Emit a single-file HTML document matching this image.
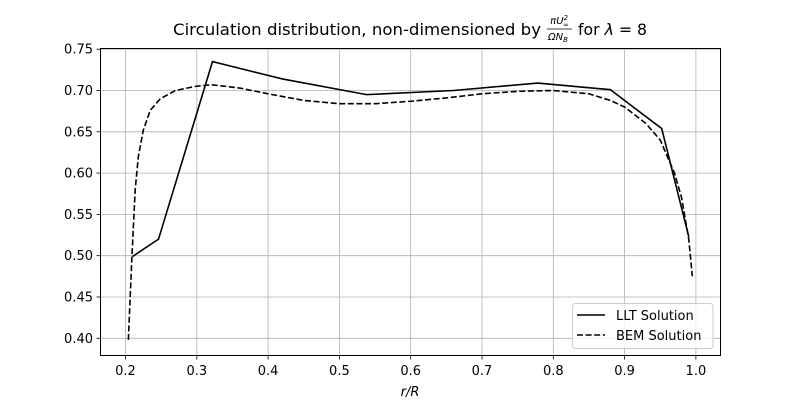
<!DOCTYPE html>
<html><head><meta charset="utf-8"><style>
body{margin:0;background:#fff;}
svg{display:block;font-family:"DejaVu Sans","Liberation Sans",sans-serif;}
</style></head><body>
<svg id="chart" width="800" height="400">
<g>
<text x="173" y="35" font-size="16" textLength="368" lengthAdjust="spacingAndGlyphs" fill="#000">Circulation distribution, non-dimensioned by</text>
<text x="559.5" y="24" text-anchor="middle" font-size="10" font-style="italic">πU<tspan font-size="7" dy="-4">2</tspan><tspan font-size="7" dx="-5" dy="7">∞</tspan></text>
<line x1="547" y1="29" x2="572" y2="29" stroke="#000" stroke-width="0.8"/>
<text x="558" y="40" text-anchor="middle" font-size="10" font-style="italic">ΩN<tspan font-size="7" dy="2">B</tspan></text>
<text x="578" y="35" font-size="16" textLength="69" lengthAdjust="spacingAndGlyphs">for <tspan font-style="italic">λ</tspan> = 8</text>
</g>
<g id="grid"></g>
<g id="series"></g>
<rect x="100.5" y="48.5" width="620" height="307" fill="none" stroke="#000" stroke-width="1"/>
<g id="ticks"></g>
<text x="410" y="396" text-anchor="middle" font-size="13" font-style="italic">r/R</text>
<g>
<rect x="572.5" y="303.5" width="140.5" height="45" rx="3" fill="#fff" fill-opacity="0.8" stroke="#ccc"/>
<line x1="577" y1="315" x2="605" y2="315" stroke="#000" stroke-width="1.6"/>
<text x="616" y="320" font-size="13">LLT Solution</text>
<line x1="577" y1="335" x2="605" y2="335" stroke="#000" stroke-width="1.6" stroke-dasharray="6,2.6"/>
<text x="616" y="340" font-size="13">BEM Solution</text>
</g>
</svg>
<script>
const xTicks=[0.2,0.3,0.4,0.5,0.6,0.7,0.8,0.9,1.0];
const xTickLabels=["0.2","0.3","0.4","0.5","0.6","0.7","0.8","0.9","1.0"];
const yTicks=[0.40,0.45,0.50,0.55,0.60,0.65,0.70,0.75];
const yTickLabels=["0.40","0.45","0.50","0.55","0.60","0.65","0.70","0.75"];
const lltX=[0.2098,0.2463,0.322,0.42,0.538,0.66,0.778,0.880,0.952,0.990];
const lltY=[0.499,0.520,0.735,0.714,0.695,0.700,0.709,0.701,0.654,0.523];
const bemX=[0.204,0.209,0.2136,0.218,0.225,0.2347,0.2487,0.27,0.298,0.32,0.36,0.40,0.45,0.50,0.55,0.60,0.65,0.70,0.75,0.80,0.85,0.88,0.90,0.93,0.95,0.97,0.98,0.99,0.995];
const bemY=[0.398,0.499,0.58,0.62,0.652,0.676,0.690,0.700,0.705,0.707,0.703,0.696,0.688,0.684,0.684,0.687,0.691,0.696,0.699,0.700,0.696,0.688,0.680,0.660,0.640,0.600,0.570,0.520,0.475];
const sx=v=>125.5+(v-0.2)*713;
const sy=v=>338.3-(v-0.4)*826;
const NS="http://www.w3.org/2000/svg";
const grid=document.getElementById('grid'),ticks=document.getElementById('ticks'),series=document.getElementById('series');
function mk(tag,attrs,parent){const e=document.createElementNS(NS,tag);for(const k in attrs)e.setAttribute(k,attrs[k]);parent.appendChild(e);return e;}
xTicks.forEach((t,i)=>{const x=sx(t);
const g=mk('line',{x1:x,x2:x,y1:48.5,y2:355.5,stroke:'#b0b0b0','stroke-width':0.8},grid);


const tk=mk('line',{x1:x,x2:x,y1:355.5,y2:359.5,stroke:'#000','stroke-width':0.8},ticks);


const lb=mk('text',{x:x,y:375,'text-anchor':'middle','font-size':13},ticks);lb.textContent=xTickLabels[i];

});
yTicks.forEach((t,i)=>{const y=sy(t);
const g=mk('line',{x1:100.5,x2:720.5,y1:y,y2:y,stroke:'#b0b0b0','stroke-width':0.8},grid);


const tk=mk('line',{x1:96.5,x2:100.5,y1:y,y2:y,stroke:'#000','stroke-width':0.8},ticks);


const lb=mk('text',{x:93,y:y+4.5,'text-anchor':'end','font-size':13},ticks);lb.textContent=yTickLabels[i];

});
const llt=mk('polyline',{points:lltX.map((x,i)=>sx(x)+','+sy(lltY[i])).join(' '),fill:'none',stroke:'#000','stroke-width':1.6},series);


const bem=mk('polyline',{points:bemX.map((x,i)=>sx(x)+','+sy(bemY[i])).join(' '),fill:'none',stroke:'#000','stroke-width':1.6,'stroke-dasharray':'6,2.6'},series);


</script>
</body></html>
